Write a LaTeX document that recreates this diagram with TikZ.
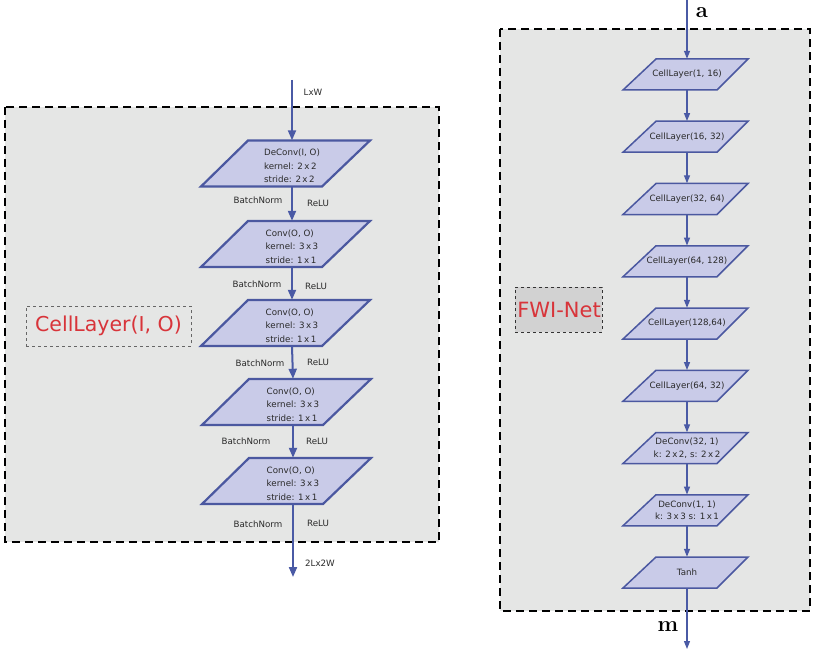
\documentclass[tikz,border=0pt]{standalone}
\usepackage{fontspec}
\newfontfamily\dv{DejaVu Sans}
\usetikzlibrary{calc,arrows.meta}
\definecolor{panelgray}{HTML}{E5E6E5}
\definecolor{labelgray}{HTML}{D2D2D2}
\definecolor{shapefill}{HTML}{C9CBE8}
\definecolor{shapeline}{HTML}{4B58A0}
\definecolor{arrowblue}{HTML}{4A5AA5}
\definecolor{txtgray}{HTML}{2A2A2A}
\definecolor{titlered}{HTML}{D8343A}
\newcommand\lpara[4]{%
  \draw[lshape] ($(#2,#3)+(-44,-23)$) -- ($(#2,#3)+(78,-23)$) -- ($(#2,#3)+(30,23)$) -- ($(#2,#3)+(-91,23)$) -- cycle;
  \node[lanchor] (#1) at (#2,#3) {};
  \node[ltext] (#1t) at ($(#1)+(0,2.5)$) {#4};}
\newcommand\rpara[4]{%
  \draw[rshape] ($(#2,#3)+(-31,-15.5)$) -- ($(#2,#3)+(61,-15.5)$) -- ($(#2,#3)+(30,15.5)$) -- ($(#2,#3)+(-64,15.5)$) -- cycle;
  \node[rtext] (#1) at (#2,#3) {#4};}
\begin{document}
\begin{tikzpicture}[x=1pt,y=-1pt,
  panelbox/.style={draw=black,fill=panelgray,line width=1.5pt,dash pattern=on 8pt off 5pt},
  lshape/.style={draw=shapeline,fill=shapefill,line width=2.2pt,line join=miter},
  rshape/.style={draw=shapeline,fill=shapefill,line width=1.5pt,line join=miter},
  lanchor/.style={inner sep=0pt,minimum height=46pt,minimum width=2pt},
  ltext/.style={inner sep=0pt,align=left,text=txtgray,font=\dv\fontsize{8.7}{13.5}\selectfont},
  rtext/.style={inner sep=0pt,minimum height=31pt,align=center,text=txtgray,font=\dv\fontsize{8.7}{12.5}\selectfont},
  small/.style={inner sep=0pt,text=txtgray,font=\dv\fontsize{8.7}{10}\selectfont},
  larrow/.style={draw=arrowblue,line width=2pt,-{Triangle[length=10pt,width=8pt]}},
  rarrow/.style={draw=arrowblue,line width=1.3pt,-{Triangle[length=8pt,width=6pt]}},
  bigtitle/.style={text=titlered,inner sep=0pt,font=\dv\fontsize{20.5}{24}\selectfont},
  mathlab/.style={inner sep=0pt,font=\fontsize{22}{24}\selectfont\bfseries}
]
\useasboundingbox (0,0) rectangle (817,650);
\fill[white] (0,0) rectangle (817,650);
% panels
\draw[panelbox] (5,107) rectangle (439,542);
\draw[panelbox] (500,29) rectangle (810,611);
% left title box
\node[draw=gray!80!black,dashed,line width=1pt,fill=panelgray,minimum width=165pt,minimum height=40pt,inner sep=0pt] (celltitlebox) at (108.5,326) {};
\node[bigtitle] (celltitle) at (108.5,326) {CellLayer(I, O)};
% right title box
\node[draw=black!80,dashed,line width=1pt,fill=labelgray,minimum width=87pt,minimum height=45pt,inner sep=0pt] (fwibox) at (558.5,309.5) {};
\node[bigtitle,font=\dv\fontsize{21}{24}\selectfont] (fwititle) at (559,310) {FWI-Net};
% left chain
\lpara{d1}{292}{163.5}{DeConv(I, O)\\kernel: 2\,x\,2\\stride: 2\,x\,2}
\lpara{c2}{292}{244}{Conv(O, O)\\kernel: 3\,x\,3\\stride: 1\,x\,1}
\lpara{c3}{292}{323}{Conv(O, O)\\kernel: 3\,x\,3\\stride: 1\,x\,1}
\lpara{c4}{293}{402}{Conv(O, O)\\kernel: 3\,x\,3\\stride: 1\,x\,1}
\lpara{c5}{293}{481}{Conv(O, O)\\kernel: 3\,x\,3\\stride: 1\,x\,1}
\coordinate (lin) at (292,80);
\coordinate (lout) at (293,577);
\draw[larrow] (lin) -- (d1.north);
\draw[larrow] (d1.south) -- (c2.north);
\draw[larrow] (c2.south) -- (c3.north);
\draw[larrow] (c3.south) -- (c4.north);
\draw[larrow] (c4.south) -- (c5.north);
\draw[larrow] (c5.south) -- (lout);
\node[small] (lxw) at (313,92) {LxW};
\node[small] (l2x) at (320,563) {2Lx2W};
\node[small] (bn1) at (258,200) {BatchNorm};
\node[small] (re1) at (318,203) {ReLU};
\node[small] (bn2) at (257,284) {BatchNorm};
\node[small] (re2) at (316,286) {ReLU};
\node[small] (bn3) at (260,363) {BatchNorm};
\node[small] (re3) at (318,362) {ReLU};
\node[small] (bn4) at (246,441) {BatchNorm};
\node[small] (re4) at (317,441) {ReLU};
\node[small] (bn5) at (258,524) {BatchNorm};
\node[small] (re5) at (318,523) {ReLU};
% right chain
\rpara{r1}{687}{74.5}{CellLayer(1, 16)}
\rpara{r2}{687}{136.75}{CellLayer(16, 32)}
\rpara{r3}{687}{199}{CellLayer(32, 64)}
\rpara{r4}{687}{261.25}{CellLayer(64, 128)}
\rpara{r5}{687}{323.5}{CellLayer(128,64)}
\rpara{r6}{687}{385.75}{CellLayer(64, 32)}
\rpara{r7}{687}{448}{DeConv(32, 1)\\k: 2\,x\,2, s: 2\,x\,2}
\rpara{r8}{687}{510.25}{DeConv(1, 1)\\k: 3\,x\,3 s: 1\,x\,1}
\rpara{r9}{687}{572.5}{Tanh}
\coordinate (rin) at (687,0);
\coordinate (rout) at (687,649);
\draw[rarrow] (rin) -- (r1.north);
\draw[rarrow] (r1.south) -- (r2.north);
\draw[rarrow] (r2.south) -- (r3.north);
\draw[rarrow] (r3.south) -- (r4.north);
\draw[rarrow] (r4.south) -- (r5.north);
\draw[rarrow] (r5.south) -- (r6.north);
\draw[rarrow] (r6.south) -- (r7.north);
\draw[rarrow] (r7.south) -- (r8.north);
\draw[rarrow] (r8.south) -- (r9.north);
\draw[rarrow] (r9.south) -- (rout);
\node[mathlab] (alab) at (702,13) {a};
\node[mathlab] (mlab) at (668,627) {m};
\end{tikzpicture}
\end{document}
